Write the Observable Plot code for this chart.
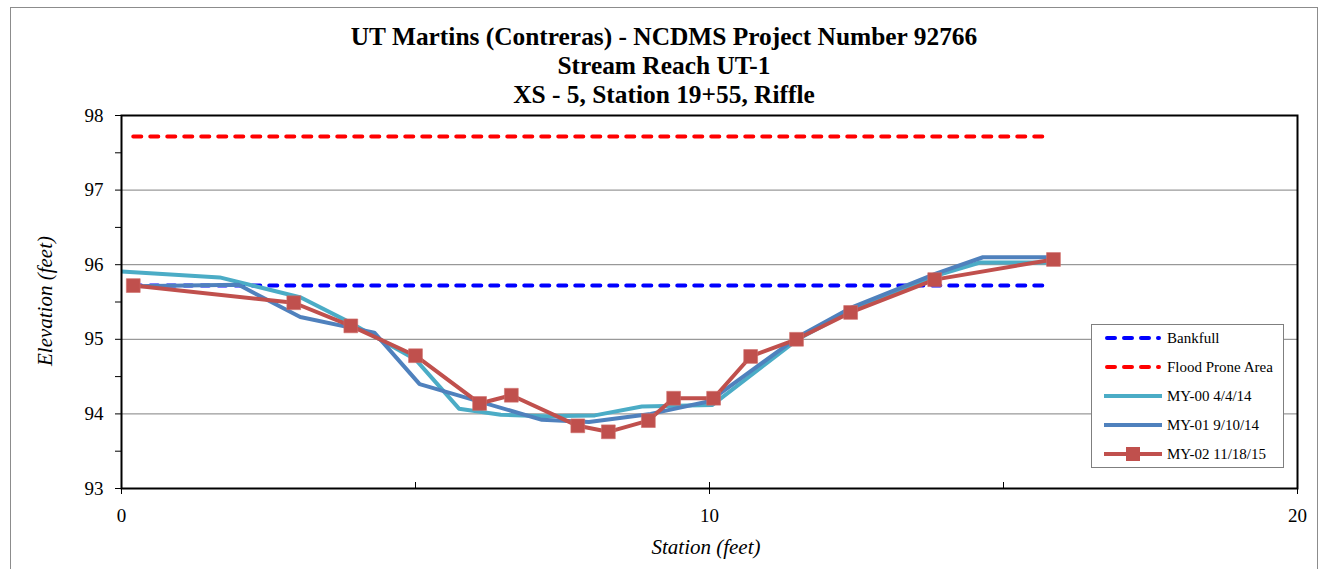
<!DOCTYPE html>
<html>
<head>
<meta charset="utf-8">
<script src="https://cdn.jsdelivr.net/npm/d3@7"></script>
<script src="https://cdn.jsdelivr.net/npm/@observablehq/plot@0.6"></script>
<style>
  html, body { margin: 0; padding: 0; background: #fff; }
  #wrap { position: relative; width: 1327px; height: 569px; overflow: hidden; font-family: "Liberation Serif", "Times New Roman", serif; }
  #outer { position: absolute; left: 10px; top: 7px; width: 1308px; height: 600px; border: 1px solid #8c8c8c; box-sizing: border-box; }
  #title { position: absolute; left: 10px; width: 1308px; top: 22px; text-align: center; font-weight: bold; font-size: 25.4px; line-height: 29px; color: #000; }
  #chart { position: absolute; left: 0; top: 0; }
  .axt { position: absolute; font-style: italic; font-size: 21px; color: #000; white-space: nowrap; }
  #ylab { left: 45px; top: 301px; transform: translate(-50%, -50%) rotate(-90deg); }
  #xlab { left: 706px; top: 547px; transform: translate(-50%, -50%); }
  #legend { position: absolute; left: 1091px; top: 324px; width: 193px; height: 144px; border: 1px solid #7f7f7f; background: #fff; box-sizing: border-box; }
  .li { position: absolute; left: 11px; height: 20px; display: flex; align-items: center; font-size: 15px; color: #000; white-space: nowrap; }
  .li svg { margin-right: 4px; }
</style>
</head>
<body>
<div id="wrap">
  <div id="outer"></div>
  <div id="chart"></div>
  <div id="title"></div>
  <div id="ylab" class="axt"></div>
  <div id="xlab" class="axt"></div>
  <div id="legend"></div>
</div>
<script>
// ---- chart texts ----
const titleLines = ["UT Martins (Contreras) - NCDMS Project Number 92766", "Stream Reach UT-1", "XS - 5, Station 19+55, Riffle"];
const xTitle = "Station (feet)";
const yTitle = "Elevation (feet)";

// ---- ticks ----
const xMajorTicks = [0, 10, 20];
const xMinorTicks = [5, 10, 15];
const yMajorTicks = [93, 94, 95, 96, 97, 98];
const yMinorTicks = [93.5, 94.5, 95.5, 96.5, 97.5];
const yGrid = [94, 95, 96, 97];

// ---- series ----
const seriesNames = ["Bankfull", "Flood Prone Area", "MY-00 4/4/14", "MY-01 9/10/14", "MY-02 11/18/15"];

const bankfullX = [0.2, 15.75];
const bankfullY = [95.72, 95.72];

const floodX = [0.2, 15.75];
const floodY = [97.72, 97.72];

const my00X = [0, 1.67, 3.05, 3.9, 5.0, 5.74, 6.45, 7.2, 8.05, 8.85, 10.05, 11.5, 12.4, 13.8, 14.6, 15.85];
const my00Y = [95.91, 95.83, 95.56, 95.22, 94.73, 94.07, 93.99, 93.97, 93.98, 94.1, 94.12, 95.0, 95.38, 95.84, 96.03, 96.03];

const my01X = [0.2, 1.99, 3.04, 4.3, 5.07, 7.15, 7.95, 9.0, 10.0, 11.5, 12.4, 13.85, 14.65, 15.85];
const my01Y = [95.71, 95.73, 95.30, 95.09, 94.40, 93.92, 93.89, 94.0, 94.17, 95.03, 95.42, 95.88, 96.1, 96.1];

const my02X = [0.2, 2.93, 3.9, 5.0, 6.09, 6.63, 7.76, 8.28, 8.96, 9.39, 10.07, 10.7, 11.48, 12.4, 13.83, 15.85];
const my02Y = [95.72, 95.49, 95.18, 94.78, 94.14, 94.25, 93.84, 93.76, 93.91, 94.21, 94.21, 94.77, 95.0, 95.36, 95.80, 96.07];

const colors = ["#0000ff", "#ff0000", "#4bacc6", "#4f81bd", "#c0504d"];

// ---- build tables ----
const toRows = (xs, ys) => xs.map((x, i) => ({x, y: ys[i]}));
const bankfull = toRows(bankfullX, bankfullY);
const flood = toRows(floodX, floodY);
const my00 = toRows(my00X, my00Y);
const my01 = toRows(my01X, my01Y);
const my02 = toRows(my02X, my02Y);

const dash = {strokeWidth: 4, strokeDasharray: "8,9", strokeLinecap: "round"};
const solid = {strokeWidth: 4, strokeLinejoin: "round", strokeLinecap: "butt"};

const chart = Plot.plot({
  width: 1327,
  height: 569,
  marginLeft: 121,
  marginRight: 30,
  marginTop: 115,
  marginBottom: 81,
  style: {fontFamily: "'Liberation Serif', 'Times New Roman', serif", fontSize: "19px", color: "#000", background: "transparent", overflow: "visible"},
  x: {domain: [0, 20], label: null},
  y: {domain: [93, 98], label: null},
  marks: [
    Plot.gridY(yGrid, {stroke: "#808080", strokeOpacity: 1, strokeWidth: 1}),
    Plot.axisY(yMajorTicks, {anchor: "left", label: null, tickSize: 6, tickPadding: 12, stroke: "#000", tickFormat: d => String(d)}),
    Plot.axisY(yMinorTicks, {anchor: "left", label: null, tickSize: 6, stroke: "#000", tickFormat: () => ""}),
    Plot.axisX(xMajorTicks, {anchor: "bottom", label: null, tickSize: 6, tickPadding: 14, stroke: "#000", tickFormat: d => String(d)}),
    Plot.axisX(xMinorTicks, {anchor: "bottom", label: null, tickSize: -6, stroke: "#000", tickFormat: () => ""}),
    Plot.line(flood, {x: "x", y: "y", stroke: colors[1], ...dash}),
    Plot.line(bankfull, {x: "x", y: "y", stroke: colors[0], ...dash}),
    Plot.line(my00, {x: "x", y: "y", stroke: colors[2], ...solid}),
    Plot.line(my01, {x: "x", y: "y", stroke: colors[3], ...solid}),
    Plot.line(my02, {x: "x", y: "y", stroke: colors[4], ...solid}),
    Plot.dot(my02, {x: "x", y: "y", symbol: "square", r: 7.8, fill: colors[4], stroke: "#cf6d6a", strokeWidth: 0.6}),
    Plot.frame({stroke: "#000", strokeWidth: 2})
  ]
});
document.getElementById("chart").appendChild(chart);

// ---- texts ----
document.getElementById("title").innerHTML = titleLines.map(t => `<div>${t}</div>`).join("");
document.getElementById("xlab").textContent = xTitle;
document.getElementById("ylab").textContent = yTitle;

// ---- legend ----
const legend = document.getElementById("legend");
const rowTops = [3, 32, 61, 90, 119];
seriesNames.forEach((name, i) => {
  const row = document.createElement("div");
  row.className = "li";
  row.style.top = rowTops[i] + "px";
  let sample;
  if (i < 2) {
    sample = `<svg width="60" height="20"><line x1="4" y1="10" x2="56" y2="10" stroke="${colors[i]}" stroke-width="4" stroke-dasharray="8,9" stroke-linecap="round"/></svg>`;
  } else if (i < 4) {
    sample = `<svg width="60" height="20"><line x1="1" y1="10" x2="59" y2="10" stroke="${colors[i]}" stroke-width="4"/></svg>`;
  } else {
    sample = `<svg width="60" height="20"><line x1="1" y1="10" x2="59" y2="10" stroke="${colors[i]}" stroke-width="4"/><rect x="23" y="3" width="14" height="14" fill="${colors[i]}"/></svg>`;
  }
  row.innerHTML = sample + `<span>${name}</span>`;
  legend.appendChild(row);
});
</script>
</body>
</html>
